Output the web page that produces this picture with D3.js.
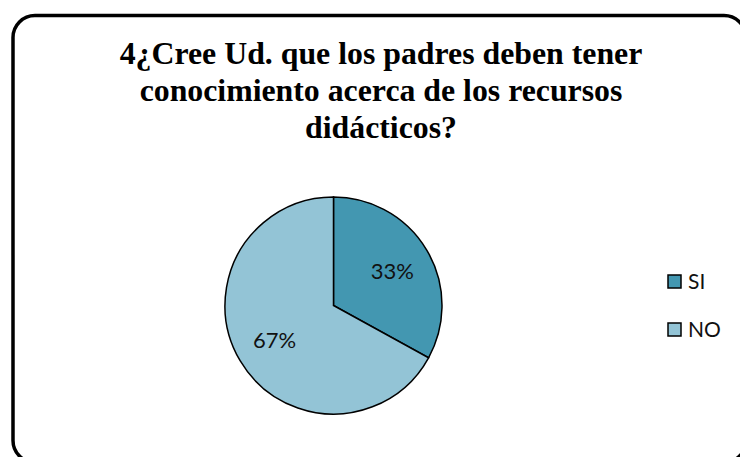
<!DOCTYPE html>
<html>
<head>
<meta charset="utf-8">
<script src="https://cdn.jsdelivr.net/npm/d3@7"></script>
<style>
  body { margin: 0; background: #fff; }
  svg { display: block; }
</style>
</head>
<body>
<div id="chart"></div>
<script>
//---------------------------------- Data --------------------
var titleLines = ["4¿Cree Ud. que los padres deben tener", "conocimiento acerca de los recursos", "didácticos?"];
var categories = ["SI", "NO"];
var values = [33, 67];
var colors = ["#4397b1", "#93c4d6"];

var width = 740, height = 457;

var svg = d3.select("#chart")
   .append("svg")
   .attr("width", width)
   .attr("height", height);

// ---------- Border around the chart (runs off right / bottom) ----------
svg.append("rect")
   .attr("x", 13)
   .attr("y", 15.5)
   .attr("width", 733)
   .attr("height", 447)
   .attr("rx", 22)
   .attr("ry", 22)
   .style("fill", "white")
   .style("stroke", "black")
   .style("stroke-width", 3.5);

//---------------------------------- Title --------------------
svg.append("g")
   .selectAll("text")
   .data(titleLines)
   .enter().append("text")
   .attr("x", 381)
   .attr("y", function(d, i) { return 64 + i * 37; })
   .attr("text-anchor", "middle")
   .attr("font-family", "'Liberation Serif', 'Times New Roman', serif")
   .attr("font-weight", "bold")
   .attr("font-size", "31.8px")
   .attr("fill", "black")
   .text(function(d) { return d; });

//---------------------------------- Pie --------------------
var cx = 333.5, cy = 305.5, radius = 108.5;
var total = d3.sum(values);

var pie = d3.pie().sort(null).value(function(d) { return d; });
var arc = d3.arc().innerRadius(0).outerRadius(radius);
var labelArc = d3.arc().innerRadius(radius * 0.63).outerRadius(radius * 0.63);

var slices = svg.append("g")
   .attr("transform", "translate(" + cx + "," + cy + ")")
   .selectAll(".slice")
   .data(pie(values))
   .enter().append("g")
   .attr("class", "slice");

slices.append("path")
   .attr("d", arc)
   .style("fill", function(d, i) { return colors[i]; })
   .style("stroke", "black")
   .style("stroke-width", 1.5);

slices.append("text")
   .attr("transform", function(d) { return "translate(" + labelArc.centroid(d) + ")"; })
   .attr("dy", "0.36em")
   .attr("text-anchor", "middle")
   .attr("font-family", "Lato, 'Open Sans', sans-serif")
   .attr("font-size", "22px")
   .attr("fill", "#111")
   .text(function(d) { return Math.round(d.data / total * 100) + "%"; });

//---------------------------------- Legend --------------------
var legend = svg.append("g")
   .selectAll(".legend")
   .data(categories)
   .enter().append("g")
   .attr("class", "legend")
   .attr("transform", function(d, i) { return "translate(668," + (275 + i * 48) + ")"; });

legend.append("rect")
   .attr("width", 13)
   .attr("height", 13)
   .style("fill", function(d, i) { return colors[i]; })
   .style("stroke", "black")
   .style("stroke-width", 1.5);

legend.append("text")
   .attr("x", 20)
   .attr("y", 13.5)
   .attr("font-family", "Lato, 'Open Sans', sans-serif")
   .attr("font-size", "21px")
   .attr("fill", "#111")
   .text(function(d) { return d; });
</script>
</body>
</html>
